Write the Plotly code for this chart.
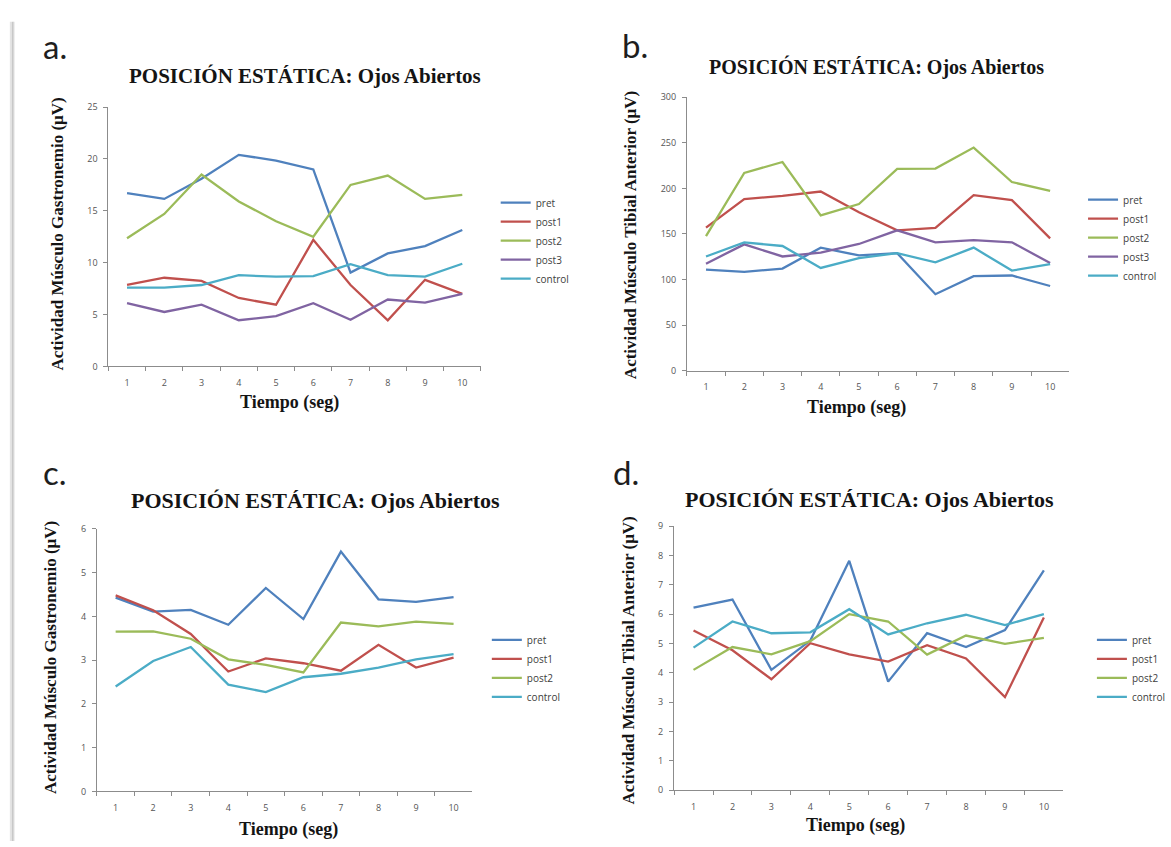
import plotly.graph_objects as go

W, H = 1171, 847

# ---- data -------------------------------------------------------------
tiempo = ["1", "2", "3", "4", "5", "6", "7", "8", "9", "10"]

# a. gastronemio, 5 groups
a_pret    = [16.7, 16.15, 18.1, 20.4, 19.85, 19.0, 9.05, 10.9, 11.6, 13.15]
a_post1   = [7.85, 8.55, 8.25, 6.6, 5.95, 12.2, 7.85, 4.45, 8.35, 7.0]
a_post2   = [12.35, 14.7, 18.5, 15.9, 14.0, 12.5, 17.5, 18.4, 16.15, 16.55]
a_post3   = [6.1, 5.25, 5.95, 4.45, 4.85, 6.1, 4.5, 6.45, 6.15, 7.0]
a_control = [7.6, 7.6, 7.85, 8.8, 8.65, 8.7, 9.85, 8.8, 8.65, 9.9]

# b. tibial anterior, 5 groups
b_pret    = [110.9, 108.4, 112.0, 135.0, 126.4, 128.9, 83.9, 103.7, 104.4, 92.9]
b_post1   = [157.0, 188.3, 191.9, 196.6, 173.9, 154.0, 156.6, 192.6, 187.2, 145.1]
b_post2   = [147.6, 217.0, 229.0, 170.3, 182.9, 221.4, 221.8, 244.8, 207.0, 197.3]
b_post3   = [117.4, 138.6, 125.3, 129.6, 139.0, 154.0, 140.8, 143.3, 140.8, 118.1]
b_control = [125.3, 140.8, 136.8, 112.7, 123.5, 128.9, 118.8, 135.0, 109.8, 117.0]

# c. gastronemio, 4 groups
c_pret    = [4.43, 4.11, 4.15, 3.81, 4.65, 3.94, 5.48, 4.39, 4.33, 4.44]
c_post1   = [4.48, 4.14, 3.6, 2.74, 3.04, 2.93, 2.76, 3.35, 2.83, 3.06]
c_post2   = [3.65, 3.66, 3.49, 3.02, 2.89, 2.72, 3.86, 3.77, 3.88, 3.83]
c_control = [2.4, 2.98, 3.3, 2.44, 2.27, 2.61, 2.69, 2.83, 3.02, 3.14]

# d. tibial anterior, 4 groups
d_pret    = [6.22, 6.5, 4.1, 5.1, 7.82, 3.7, 5.35, 4.88, 5.46, 7.49]
d_post1   = [5.44, 4.77, 3.78, 5.01, 4.63, 4.38, 4.94, 4.49, 3.17, 5.89]
d_post2   = [4.1, 4.88, 4.63, 5.08, 6.0, 5.75, 4.62, 5.27, 4.99, 5.19]
d_control = [4.86, 5.75, 5.35, 5.38, 6.17, 5.31, 5.69, 5.98, 5.63, 6.0]

titulo = "POSICIÓN ESTÁTICA: Ojos Abiertos"
eje_x = "Tiempo (seg)"
eje_gastro = "Actividad Músculo Gastronemio (μV)"
eje_tibial = "Actividad Músculo Tibial Anterior (μV)"

colores = {"pret": "#4F81BD", "post1": "#C0504D", "post2": "#9BBB59",
           "post3": "#8064A2", "control": "#4BACC6"}

# ---- layout helpers (pixel -> paper) ------------------------------------
def px(x):
    return x / W

def py(y):
    return 1 - y / H

SERIF = "Liberation Serif, Times New Roman, serif"
SANS = "Open Sans, Liberation Sans, sans-serif"
AXIS_GREY = "#8c8c8c"
TICK_FONT = dict(family=SANS, size=9, color="#555555")

paneles = [
    dict(letra="a.", box=(110, 488, 101.7, 365), yr=25, dt=5,
         series=[("pret", a_pret), ("post1", a_post1), ("post2", a_post2),
                 ("post3", a_post3), ("control", a_control)],
         ytitle=eje_gastro, ytx=58, yty=231,
         title_xy=(310, 70), title_size=21, xt_xy=(294, 402),
         letter_xy=(42, 40), leg_xy=(503, 184)),
    dict(letra="b.", box=(697, 1085, 91.7, 369.3), yr=300, dt=50,
         series=[("pret", b_pret), ("post1", b_post1), ("post2", b_post2),
                 ("post3", b_post3), ("control", b_control)],
         ytitle=eje_tibial, ytx=640, yty=232,
         title_xy=(889, 61), title_size=20, xt_xy=(869, 407),
         letter_xy=(629, 39), leg_xy=(1099, 181)),
    dict(letra="c.", box=(98.3, 479.3, 530, 796.7), yr=6, dt=1,
         series=[("pret", c_pret), ("post1", c_post1), ("post2", c_post2),
                 ("control", c_control)],
         ytitle=eje_gastro, ytx=52, yty=661,
         title_xy=(320, 501), title_size=22, xt_xy=(293, 835),
         letter_xy=(42, 472), leg_xy=(494, 628)),
    dict(letra="d.", box=(684, 1079, 527.3, 795.3), yr=9, dt=1,
         series=[("pret", d_pret), ("post1", d_post1), ("post2", d_post2),
                 ("control", d_control)],
         ytitle=eje_tibial, ytx=638, yty=664,
         title_xy=(882, 500), title_size=22, xt_xy=(868, 831),
         letter_xy=(620, 472), leg_xy=(1108, 628)),
]

fig = go.Figure()
annotations = []
layout_axes = {}

for i, p in enumerate(paneles, start=1):
    sfx = "" if i == 1 else str(i)
    x0, x1, yt, yb = p["box"]
    leg_name = "legend" + sfx
    for name, vals in p["series"]:
        fig.add_trace(go.Scatter(
            x=tiempo, y=vals, name=name, mode="lines",
            line=dict(color=colores[name], width=2.3),
            xaxis="x" + sfx, yaxis="y" + sfx,
            legend=leg_name, legendgroup=f"{i}-{name}",
        ))
    layout_axes["xaxis" + sfx] = dict(
        domain=[px(x0), px(x1)], anchor="y" + sfx, type="category",
        range=[-0.5, len(tiempo) - 0.5],
        tickson="boundaries", ticks="outside", ticklen=4, tickwidth=1,
        tickcolor=AXIS_GREY, showline=True, linecolor=AXIS_GREY, linewidth=1,
        showgrid=False, zeroline=False, tickfont=TICK_FONT,
        ticklabelstandoff=8, fixedrange=True,
    )
    layout_axes["yaxis" + sfx] = dict(
        domain=[py(yb), py(yt)], anchor="x" + sfx, range=[0, p["yr"]],
        dtick=p["dt"], tick0=0, ticks="outside", ticklen=4, tickwidth=1,
        tickcolor=AXIS_GREY, showline=True, linecolor=AXIS_GREY, linewidth=1,
        showgrid=False, zeroline=False, tickfont=TICK_FONT,
        ticklabelstandoff=4, fixedrange=True,
    )
    lx, ly = p["leg_xy"]
    layout_axes[leg_name] = dict(
        x=px(lx), y=py(ly), xanchor="left", yanchor="top",
        font=dict(family=SANS, size=10, color="#404040"),
        bgcolor="rgba(0,0,0,0)", borderwidth=0, tracegroupgap=0,
        itemwidth=30,
    )
    # panel letter
    annotations.append(dict(
        text=p["letra"], x=px(p["letter_xy"][0]), y=py(p["letter_xy"][1]),
        xref="paper", yref="paper", xanchor="left", yanchor="middle",
        showarrow=False, font=dict(family="Lato, Open Sans, sans-serif",
                                   size=33, color="#1e1e1e")))
    # chart title
    annotations.append(dict(
        text="<b>" + titulo + "</b>", x=px(p["title_xy"][0]),
        y=py(p["title_xy"][1]), xref="paper", yref="paper",
        xanchor="center", yanchor="middle", showarrow=False,
        font=dict(family=SERIF, size=p["title_size"], color="#141414")))
    # x axis title
    annotations.append(dict(
        text="<b>" + eje_x + "</b>", x=px(p["xt_xy"][0]), y=py(p["xt_xy"][1]),
        xref="paper", yref="paper", xanchor="center", yanchor="middle",
        showarrow=False, font=dict(family=SERIF, size=18, color="#141414")))
    # y axis title
    annotations.append(dict(
        text="<b>" + p["ytitle"] + "</b>", x=px(p["ytx"]), y=py(p["yty"]),
        xref="paper", yref="paper", xanchor="center", yanchor="middle",
        textangle=-90, showarrow=False,
        font=dict(family=SERIF, size=17, color="#141414")))

# soft page edge on the left
shapes = [
    dict(type="rect", xref="paper", yref="paper", x0=px(10), x1=px(12),
         y0=0, y1=py(15), line=dict(width=0), fillcolor="#e4e4e4"),
    dict(type="rect", xref="paper", yref="paper", x0=px(12), x1=px(14),
         y0=0, y1=py(15), line=dict(width=0), fillcolor="#c8c8c8"),
    dict(type="rect", xref="paper", yref="paper", x0=px(14), x1=px(15),
         y0=0, y1=py(15), line=dict(width=0), fillcolor="#ebebeb"),
]

fig.update_layout(
    width=W, height=H, margin=dict(l=0, r=0, t=0, b=0),
    paper_bgcolor="white", plot_bgcolor="white",
    showlegend=True, annotations=annotations, shapes=shapes,
    **layout_axes,
)

fig.write_html("out.html")
